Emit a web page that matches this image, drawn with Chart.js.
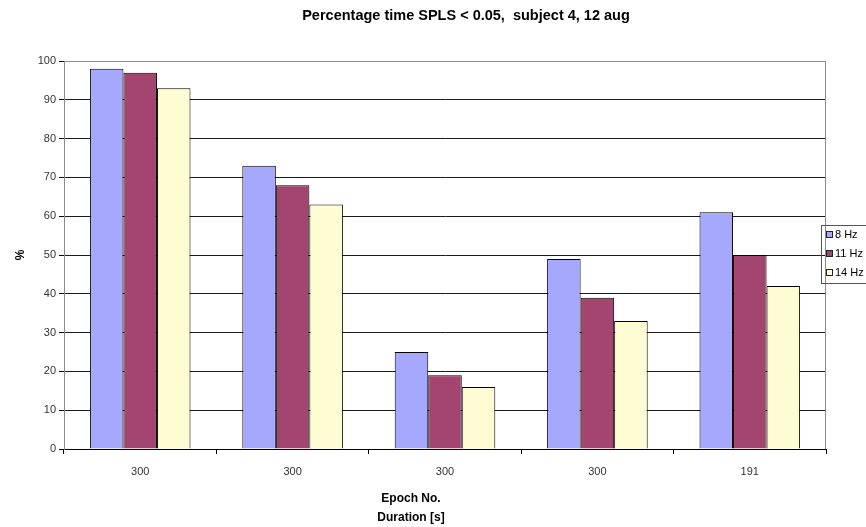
<!DOCTYPE html>
<html>
<head>
<meta charset="utf-8">
<script src="https://cdn.jsdelivr.net/npm/chart.js@4/dist/chart.umd.min.js"></script>
<style>
  html, body { margin: 0; padding: 0; background: #fff; }
  #wrap { width: 866px; height: 527px; }
</style>
</head>
<body>
<div id="wrap"><canvas id="spls"></canvas></div>
<script>
// chart data
const epochLabels = ['300', '300', '300', '300', '191'];
const seriesNames = ['8 Hz', '11 Hz', '14 Hz'];
const hz8 = [98, 73, 25, 49, 61];
const hz11 = [97, 68, 19, 39, 50];
const hz14 = [93, 63, 16, 33, 42];
const yTicks = [0, 10, 20, 30, 40, 50, 60, 70, 80, 90, 100];

const barColors = ['#a6a8fd', '#a3456f', '#fffbd2'];
const fontFamily = '"Liberation Sans", Arial, sans-serif';

// titles, plot frame and the boxed legend (Excel style)
const excelDecor = {
  id: 'excelDecor',
  beforeDatasetsDraw(chart) {
    const { ctx, chartArea: a } = chart;
    ctx.save();
    ctx.strokeStyle = '#8c8c8c';
    ctx.lineWidth = 1;
    ctx.beginPath();
    ctx.moveTo(a.left + 0.5, a.top + 0.5);
    ctx.lineTo(a.right - 0.5, a.top + 0.5);
    ctx.lineTo(a.right - 0.5, a.bottom);
    ctx.stroke();
    ctx.restore();
  },
  afterDraw(chart) {
    const ctx = chart.ctx;
    ctx.save();
    ctx.fillStyle = '#000';
    ctx.textAlign = 'center';
    ctx.textBaseline = 'middle';
    ctx.font = 'bold 14.5px ' + fontFamily;
    ctx.fillText('Percentage time SPLS < 0.05,  subject 4, 12 aug', 466, 16);
    ctx.font = 'bold 12px ' + fontFamily;
    ctx.fillText('Epoch No.', 411, 499);
    ctx.fillText('Duration [s]', 411, 518);

    // legend
    ctx.strokeStyle = '#555';
    ctx.lineWidth = 1;
    ctx.strokeRect(821.5, 225.5, 60, 58);
    ctx.font = '11px ' + fontFamily;
    ctx.textAlign = 'left';
    chart.data.datasets.forEach((ds, i) => {
      const y = 235 + i * 19;
      ctx.fillStyle = ds.backgroundColor;
      ctx.fillRect(826, y - 4, 7, 7);
      ctx.strokeStyle = '#222';
      ctx.strokeRect(826.5, y - 3.5, 6, 6);
      ctx.fillStyle = '#000';
      ctx.fillText(ds.label, 835, y);
    });
    ctx.restore();
  }
};

const ctx = document.getElementById('spls').getContext('2d');
const chart = new Chart(ctx, {
  type: 'bar',
  data: {
    labels: epochLabels,
    datasets: [
      { label: seriesNames[0], data: hz8, backgroundColor: barColors[0] },
      { label: seriesNames[1], data: hz11, backgroundColor: barColors[1] },
      { label: seriesNames[2], data: hz14, backgroundColor: barColors[2] }
    ]
  },
  options: {
    responsive: true,
    maintainAspectRatio: false,
    animation: false,
    layout: { padding: { top: 61, right: 40, left: 0, bottom: 0 } },
    datasets: {
      bar: {
        categoryPercentage: 0.66,
        barPercentage: 1.0,
        borderColor: '#000',
        borderWidth: 1,
        borderSkipped: 'bottom'
      }
    },
    plugins: {
      legend: { display: false },
      title: { display: false },
      tooltip: { enabled: false }
    },
    scales: {
      x: {
        offset: true,
        grid: {
          offset: true,
          drawOnChartArea: false,
          drawTicks: true,
          tickLength: 5,
          tickColor: '#000'
        },
        border: { color: '#000', width: 1 },
        ticks: {
          color: '#333',
          font: { family: fontFamily, size: 11 },
          padding: 11,
          maxRotation: 0
        },
        afterFit(scale) { scale.height = 78; }
      },
      y: {
        min: 0,
        max: 100,
        afterBuildTicks(scale) { scale.ticks = yTicks.map(v => ({ value: v })); },
        grid: {
          color: c => (c.tick && c.tick.value === 100) ? '#8c8c8c' : '#1a1a1a',
          tickColor: '#000',
          tickLength: 5,
          lineWidth: 1
        },
        border: { color: '#8c8c8c', width: 1 },
        ticks: {
          color: '#333',
          font: { family: fontFamily, size: 11 },
          padding: 3
        },
        title: {
          display: true,
          text: '%',
          color: '#000',
          font: { family: fontFamily, size: 12, weight: 'bold' },
          padding: { top: 13, bottom: 0 }
        },
        afterFit(scale) { scale.width = 64; }
      }
    }
  },
  plugins: [excelDecor]
});
</script>
</body>
</html>
